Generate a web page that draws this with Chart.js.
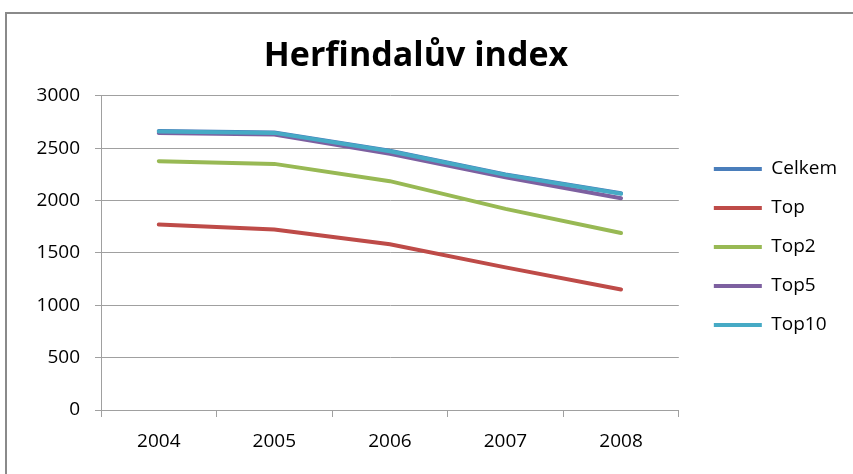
<!DOCTYPE html>
<html>
<head>
<meta charset="utf-8">
<script src="https://cdn.jsdelivr.net/npm/chart.js@4/dist/chart.umd.min.js"></script>
<style>
    body { margin: 0; background: #fff; }
    #wrap { position: relative; width: 853px; height: 474px; overflow: hidden; }
    #frame {
        position: absolute; left: 5px; top: 12px; width: 900px; height: 500px;
        border-left: 2px solid #8a8a8a; border-top: 2px solid #8a8a8a;
        pointer-events: none;
    }
</style>
</head>
<body>
<div id="wrap">
    <canvas id="hhi-chart"></canvas>
    <div id="frame"></div>
</div>
<script>
const years = ['2004', '2005', '2006', '2007', '2008'];

const celkem = [2665, 2650, 2476, 2250, 2070];
const top1   = [1770, 1723, 1582, 1362, 1151];
const top2   = [2376, 2350, 2185, 1920, 1690];
const top5   = [2645, 2630, 2446, 2223, 2022];
const top10  = [2659, 2646, 2471, 2245, 2064];

const yTicks = [0, 500, 1000, 1500, 2000, 2500, 3000];

const FONT = "'Open Sans', sans-serif";
const GRID = '#a0a0a0';

function series(label, data, color, order) {
    return {
        label: label,
        data: data,
        borderColor: color,
        backgroundColor: color,
        borderWidth: 4,
        borderCapStyle: 'round',
        pointRadius: 0,
        tension: 0,
        order: order
    };
}

// nudge the legend a little further from the plot and lower down
const legendGap = {
    id: 'legendGap',
    afterLayout(chart) {
        const lg = chart.legend;
        const w = lg.width;
        const h = lg.height;
        lg.left = chart.chartArea.right + 15;
        lg.right = lg.left + w;
        lg.top += 10;
        lg.bottom = lg.top + h;
    }
};

const ctx = document.getElementById('hhi-chart').getContext('2d');
new Chart(ctx, {
    type: 'line',
    data: {
        labels: years,
        datasets: [
            series('Celkem', celkem, '#4a7ebb', 4),
            series('Top', top1, '#be4b48', 3),
            series('Top2', top2, '#98b954', 2),
            series('Top5', top5, '#7d60a0', 1),
            series('Top10', top10, '#46aac5', 0)
        ]
    },
    options: {
        responsive: true,
        maintainAspectRatio: false,
        animation: false,
        layout: { padding: { left: 0, right: 21, top: 0, bottom: 0 } },
        plugins: {
            title: {
                display: true,
                text: 'Herfindalův index',
                color: '#000',
                font: { family: FONT, size: 34, weight: 'bold' },
                padding: { top: 36, bottom: 19 }
            },
            legend: {
                position: 'right',
                labels: {
                    usePointStyle: true,
                    pointStyle: 'line',
                    pointStyleWidth: 48,
                    padding: 20,
                    color: '#000',
                    font: { family: FONT, size: 19 },
                    sort: (a, b) => a.datasetIndex - b.datasetIndex
                }
            },
            tooltip: { enabled: false }
        },
        scales: {
            x: {
                offset: true,
                grid: {
                    offset: true,
                    drawOnChartArea: false,
                    drawTicks: true,
                    tickLength: 7,
                    color: GRID
                },
                border: { color: GRID },
                ticks: {
                    color: '#000',
                    padding: 13,
                    font: { family: FONT, size: 19 }
                },
                afterFit: scale => { scale.height = 64; }
            },
            y: {
                min: yTicks[0],
                max: yTicks[yTicks.length - 1],
                afterBuildTicks: scale => {
                    scale.ticks = yTicks.map(v => ({ value: v }));
                },
                grid: { color: GRID, tickLength: 6 },
                border: { color: GRID },
                ticks: {
                    color: '#000',
                    padding: 15,
                    font: { family: FONT, size: 19 },
                    callback: v => String(v)
                },
                afterFit: scale => { scale.width = 101; }
            }
        }
    },
    plugins: [legendGap]
});
</script>
</body>
</html>
